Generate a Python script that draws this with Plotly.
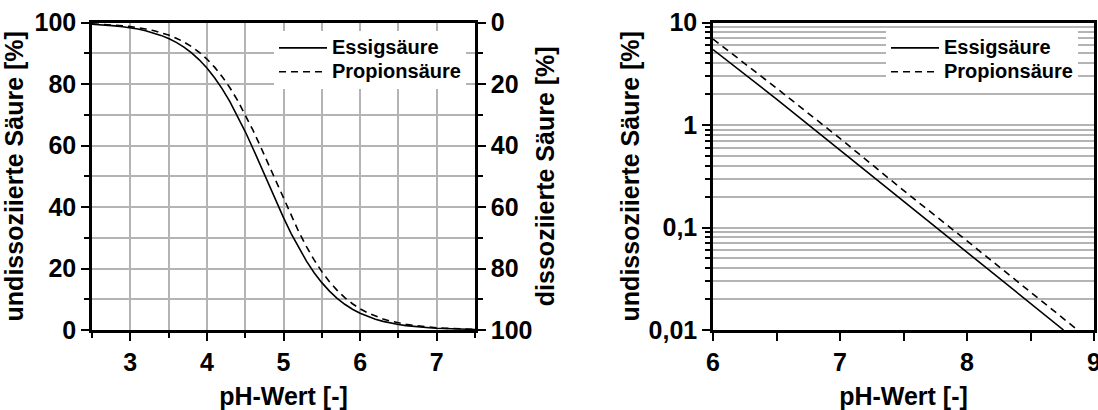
import plotly.graph_objects as go

# pH grid for the full titration curves (left panel)
ph_full = [round(2.5 + 0.1 * i, 1) for i in range(51)]

# undissociated fraction [%] of acetic acid (Essigsäure)
essig_full = [99.45, 99.31, 99.14, 98.91, 98.64, 98.29, 97.86, 97.32, 96.65, 95.81,
              94.79, 93.53, 91.99, 90.12, 87.87, 85.19, 82.05, 78.41, 74.25, 69.61,
              64.54, 59.11, 53.45, 47.70, 42.01, 36.53, 31.37, 26.64, 22.38, 18.64,
              15.40, 12.63, 10.30, 8.36, 6.75, 5.44, 4.37, 3.50, 2.80, 2.24,
              1.79, 1.42, 1.14, 0.90, 0.72, 0.57, 0.46, 0.36, 0.29, 0.23, 0.18]

# undissociated fraction [%] of propionic acid (Propionsäure)
propion_full = [99.57, 99.46, 99.32, 99.16, 98.94, 98.67, 98.33, 97.90, 97.38, 96.72,
                95.91, 94.90, 93.67, 92.16, 90.32, 88.11, 85.48, 82.39, 78.79, 74.69,
                70.10, 65.06, 59.66, 54.02, 48.27, 42.57, 37.06, 31.87, 27.09, 22.79,
                18.99, 15.70, 12.89, 10.51, 8.54, 6.90, 5.56, 4.47, 3.58, 2.87,
                2.29, 1.83, 1.46, 1.16, 0.92, 0.74, 0.59, 0.47, 0.37, 0.30, 0.23]

# alkaline range on a logarithmic scale (right panel)
ph_essig_log = [6.0, 6.5, 7.0, 7.5, 8.0, 8.5, 8.76]
essig_log = [5.44, 1.79, 0.57, 0.18, 0.0575, 0.0182, 0.0100]
ph_propion_log = [6.0, 6.5, 7.0, 7.5, 8.0, 8.5, 8.85]
propion_log = [6.90, 2.29, 0.74, 0.23, 0.074, 0.0234, 0.0105]

# axis labelling
lin_ticks = [0, 20, 40, 60, 80, 100]
log_tickvals = [0.01, 0.1, 1, 10]
log_ticktext = ["0,01", "0,1", "1", "10"]
log_minor = [m * 10 ** e for e in (-2, -1, 0) for m in range(2, 10)]

W, H = 1098, 410
FONT = "Liberation Sans, Arial, sans-serif"
GRID = "#b4b4b4"

L_X0, L_X1 = 92, 475
R_X0, R_X1 = 713, 1094
Y_TOP, Y_BOT = 22.5, 330


def px(x):
    return x / W


def py(y):
    return 1 - y / H


def legend_label(text):
    # larger glyphs than the legend's base size keep the rows tightly spaced
    return f'<span style="font-size:20px">{text}</span>'


fig = go.Figure()

solid = dict(color="black", width=1.6)
dashed = dict(color="black", width=1.6, dash="7px,5px")

fig.add_trace(go.Scatter(x=ph_full, y=essig_full, mode="lines", line=solid,
                         name=legend_label("Essigsäure"),
                         xaxis="x", yaxis="y", legend="legend"))
fig.add_trace(go.Scatter(x=ph_full, y=propion_full, mode="lines", line=dashed,
                         name=legend_label("Propionsäure"),
                         xaxis="x", yaxis="y", legend="legend"))
# empty trace so the secondary (dissociated) axis gets drawn
fig.add_trace(go.Scatter(x=[None], y=[None], mode="lines", showlegend=False,
                         hoverinfo="skip", xaxis="x", yaxis="y2"))
fig.add_trace(go.Scatter(x=ph_essig_log, y=essig_log, mode="lines", line=solid,
                         name=legend_label("Essigsäure"),
                         xaxis="x2", yaxis="y3", legend="legend2"))
fig.add_trace(go.Scatter(x=ph_propion_log, y=propion_log, mode="lines", line=dashed,
                         name=legend_label("Propionsäure"),
                         xaxis="x2", yaxis="y3", legend="legend2"))

tickfont = dict(family=FONT, size=25, color="black", weight="bold")
titlefont = dict(family=FONT, size=25, color="black", weight="bold")
legendfont = dict(family=FONT, size=16, color="black", weight="bold")

common_axis = dict(
    showline=True, linecolor="black", linewidth=2.5,
    ticks="outside", ticklen=8, tickwidth=2, tickcolor="black",
    tickfont=tickfont, zeroline=False, ticklabeloverflow="allow",
    automargin=False,
)

y_dom = [py(Y_BOT), py(Y_TOP)]

fig.update_layout(
    width=W, height=H,
    margin=dict(l=0, r=0, t=0, b=0),
    paper_bgcolor="white", plot_bgcolor="white",
    font=dict(family=FONT, color="black"),
    xaxis=dict(
        domain=[px(L_X0), px(L_X1)], range=[2.5, 7.5], anchor="y",
        tickvals=[3, 4, 5, 6, 7], mirror=True,
        showgrid=True, gridcolor=GRID, gridwidth=1.5,
        minor=dict(tickvals=[2.5, 3.5, 4.5, 5.5, 6.5, 7.5], ticks="outside",
                   ticklen=5, tickwidth=2, tickcolor="black",
                   showgrid=True, gridcolor=GRID, gridwidth=1.5),
        title=dict(text="pH-Wert [-]", font=titlefont, standoff=22),
        **common_axis,
    ),
    yaxis=dict(
        domain=y_dom, range=[0, 100], anchor="x",
        tickvals=lin_ticks,
        showgrid=True, gridcolor=GRID, gridwidth=1.5,
        minor=dict(dtick=10, tick0=0, ticks="outside", ticklen=5, tickwidth=2,
                   tickcolor="black", showgrid=True, gridcolor=GRID, gridwidth=1.5),
        title=dict(text="undissoziierte Säure [%]", font=titlefont, standoff=4),
        **common_axis,
    ),
    yaxis2=dict(
        domain=y_dom, range=[100, 0], anchor="x", overlaying="y", side="right",
        tickvals=lin_ticks, showgrid=False,
        minor=dict(dtick=10, tick0=0, ticks="outside", ticklen=5, tickwidth=2,
                   tickcolor="black"),
        title=dict(text="dissoziierte Säure [%]", font=titlefont, standoff=6),
        **common_axis,
    ),
    xaxis2=dict(
        domain=[px(R_X0), px(R_X1)], range=[6, 9], anchor="y3",
        tickvals=[6, 7, 8, 9], mirror=True, showgrid=False,
        minor=dict(tickvals=[6.5, 7.5, 8.5], ticks="outside", ticklen=8,
                   tickwidth=2, tickcolor="black"),
        title=dict(text="pH-Wert [-]", font=titlefont, standoff=22),
        **common_axis,
    ),
    yaxis3=dict(
        domain=y_dom, type="log", range=[-2, 1], anchor="x2",
        tickvals=log_tickvals, ticktext=log_ticktext, mirror=True,
        showgrid=True, gridcolor=GRID, gridwidth=1.5,
        minor=dict(tickvals=log_minor, ticks="outside", ticklen=5, tickwidth=1.5,
                   tickcolor="black", showgrid=True, gridcolor=GRID, gridwidth=1.5),
        title=dict(text="undissoziierte Säure [%]", font=titlefont, standoff=2),
        **common_axis,
    ),
    legend=dict(
        x=px(466), y=py(31), xanchor="right", yanchor="top",
        bgcolor="white", borderwidth=0, font=legendfont,
        tracegroupgap=0, itemwidth=48,
    ),
    legend2=dict(
        x=px(1078), y=py(31), xanchor="right", yanchor="top",
        bgcolor="white", borderwidth=0, font=legendfont,
        tracegroupgap=0, itemwidth=48,
    ),
    showlegend=True,
)

fig.write_html("out.html")
